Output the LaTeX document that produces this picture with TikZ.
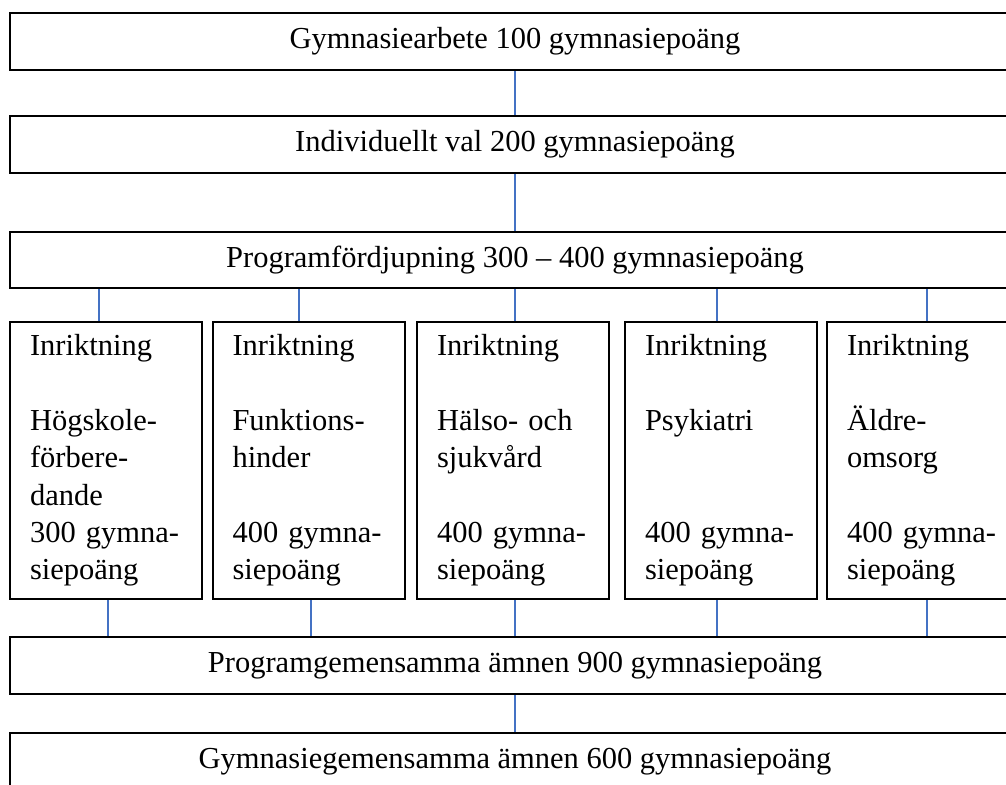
\documentclass[tikz,border=0pt]{standalone}
\usepackage{fontspec}
\setmainfont{Liberation Serif}
\definecolor{linkblue}{RGB}{68,114,196}
\begin{document}
\begin{tikzpicture}[x=1pt,y=-1pt,
  every node/.style={font=\fontsize{30.5}{37.3}\selectfont},
  bar/.style={draw,line width=2pt,minimum width=1010pt,minimum height=57pt,
    inner sep=0pt,anchor=north west},
  track/.style={draw,line width=2pt,minimum width=192pt,minimum height=277pt,
    text width=152pt,inner xsep=20pt,inner ysep=0pt,align=left,anchor=north west},
  link/.style={draw=linkblue,line width=1.6pt}]
  \useasboundingbox (0,0) rectangle (1006,784);
  \clip (0,0) rectangle (1006,784);
  \node[bar] (arbete) at (9,12) {Gymnasiearbete 100 gymnasiepoäng};
  \node[bar] (val) at (9,115) {Individuellt val 200 gymnasiepoäng};
  \node[bar,minimum height=56pt] (fordj) at (9,231) {Programfördjupning 300 -- 400 gymnasiepoäng};
  \node[bar] (progem) at (9,636) {Programgemensamma ämnen 900 gymnasiepoäng};
  \node[bar] (gymgem) at (9,732) {Gymnasiegemensamma ämnen 600 gymnasiepoäng};
  \foreach \n/\xpos/\txt in {
      hogsk/9/{Inriktning\\[37.3pt]Högskole-\\förbere-\\dande\\300 gymna-\\siepoäng},
      funk/211.5/{Inriktning\\[37.3pt]Funktions-\\hinder\\[37.3pt]400 gymna-\\siepoäng},
      halso/416/{Inriktning\\[37.3pt]Hälso- och\\sjukvård\\[37.3pt]400 gymna-\\siepoäng},
      psyk/624/{Inriktning\\[37.3pt]Psykiatri\\[74.6pt]400 gymna-\\siepoäng},
      aldre/826/{Inriktning\\[37.3pt]Äldre-\\omsorg\\[37.3pt]400 gymna-\\siepoäng}}
  {
    \node[track] (\n) at (\xpos,321) {\txt};
  }
  \draw[link] (arbete.south) -- (val.north);
  \draw[link] (val.south) -- (fordj.north);
  \draw[link] (progem.south) -- (gymgem.north);
  \foreach \n/\dt/\db in {hogsk/-7/2, funk/-9.5/2.5, halso/2/2, psyk/-4/-4, aldre/4/4}
  {
    \draw[link] ([xshift=\dt pt]\n.north) -- ([xshift=\dt pt]\n.north |- fordj.south);
    \draw[link] ([xshift=\db pt]\n.south) -- ([xshift=\db pt]\n.south |- progem.north);
  }
\end{tikzpicture}
\end{document}
